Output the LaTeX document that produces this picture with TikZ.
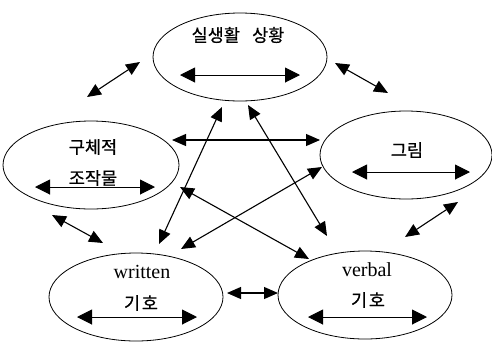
\documentclass[tikz,border=0pt]{standalone}
\usepackage{fontspec}
\setmainfont{Liberation Serif}
\newfontfamily\kr[FakeBold=0.6]{Noto Sans CJK KR}
\usetikzlibrary{shapes.geometric,arrows.meta}

\tikzset{
  bubble/.style={ellipse, draw, line width=0.8pt, minimum width=#1, minimum height=88pt, inner sep=0pt},
  bubble/.default=174pt,
  link/.style={line width=1.1pt, {Triangle[length=14pt,width=12pt]}-{Triangle[length=14pt,width=12pt]}},
  inlink/.style={line width=1pt, {Triangle[length=15pt,width=15pt]}-{Triangle[length=15pt,width=15pt]}},
  krtext/.style={font=\kr\fontsize{17.5pt}{19pt}\selectfont, inner sep=0pt},
  entext/.style={font=\fontsize{20pt}{22pt}\selectfont, inner sep=0pt}
}

\begin{document}
\begin{tikzpicture}[x=1pt, y=-1pt]
\useasboundingbox (0,0) rectangle (492,341);

% five representation modes
\node[bubble] (real)  at (240,57)  {};
\node[bubble=176pt] (conc) at (91,165) {};
\node[bubble=172pt] (pict) at (406,155) {};
\node[bubble] (writ)  at (136,297) {};
\node[bubble] (verb)  at (365,295) {};

% labels
\node[krtext] (realtx) at (238,35) {실생활\hspace{0.7em}상황};
\node[krtext] (conctx1) at (93,147) {구체적};
\node[krtext] (conctx2) at (93,178) {조작물};
\node[krtext] (picttx) at (407,150) {그림};
\node[entext] (writtx) at (142,272) {written};
\node[krtext] (writtx2) at (141,303) {기\hspace{0.1em}호};
\node[entext] (verbtx) at (367,270) {verbal};
\node[krtext] (verbtx2) at (368,300) {기\hspace{0.1em}호};

% translations inside each mode
\coordinate (r1) at (180,75);  \coordinate (r2) at (300,75);
\coordinate (c1) at (35,187);  \coordinate (c2) at (155,187);
\coordinate (p1) at (352,172); \coordinate (p2) at (470,172);
\coordinate (w1) at (77,317);  \coordinate (w2) at (197,317);
\coordinate (v1) at (308,317); \coordinate (v2) at (427,317);
\draw[inlink] (r1) -- (r2);
\draw[inlink] (c1) -- (c2);
\draw[inlink] (p1) -- (p2);
\draw[inlink] (w1) -- (w2);
\draw[inlink] (v1) -- (v2);

% translations between neighbouring modes
\coordinate (a1) at (87,97);   \coordinate (a2) at (140,62);
\coordinate (b1) at (335,63);  \coordinate (b2) at (388,93);
\coordinate (d1) at (52,215);  \coordinate (d2) at (103,243);
\coordinate (e1) at (458,202); \coordinate (e2) at (405,237);
\coordinate (f1) at (227,293); \coordinate (f2) at (278,293);
\draw[link] (a1) -- (a2);
\draw[link] (b1) -- (b2);
\draw[link] (d1) -- (d2);
\draw[link] (e1) -- (e2);
\draw[link] (f1) -- (f2);

% crossing translations in the middle
\coordinate (g1) at (172,140); \coordinate (g2) at (320,140);
\coordinate (h1) at (222,107); \coordinate (h2) at (159,244);
\coordinate (i1) at (248,105); \coordinate (i2) at (327,236);
\coordinate (j1) at (180,187); \coordinate (j2) at (309,259);
\coordinate (k1) at (322,167); \coordinate (k2) at (181,249);
\draw[link] (g1) -- (g2);
\draw[link] (h1) -- (h2);
\draw[link] (i1) -- (i2);
\draw[link] (j1) -- (j2);
\draw[link] (k1) -- (k2);
\end{tikzpicture}
\end{document}
